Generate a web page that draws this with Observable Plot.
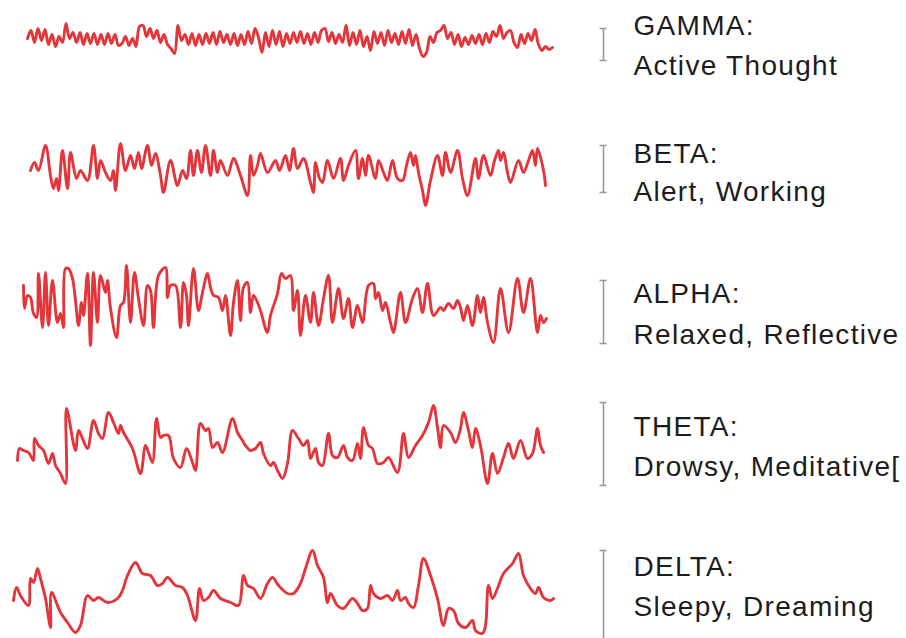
<!DOCTYPE html>
<html><head><meta charset="utf-8">
<script src="https://cdn.jsdelivr.net/npm/d3@7"></script>
<script src="https://cdn.jsdelivr.net/npm/@observablehq/plot@0.6"></script>
<style>
html,body{margin:0;padding:0;background:#fff;}
#chart svg text{letter-spacing:1.3px;}
</style></head><body><div id="chart"></div>
<script>
// Band names and mental states
const bandNames = ["GAMMA:", "BETA:", "ALPHA:", "THETA:", "DELTA:"];
const stateNames = ["Active Thought", "Alert, Working", "Relaxed, Reflective", "Drowsy, Meditative[", "Sleepy, Dreaming"];
// calibration bar lengths (amplitude units)
const calibration = [32, 47, 63, 83, 100];

// GAMMA: uniformly sampled amplitudes
const gammaStart = 27, gammaStep = 3.5;
const gammaValues = [2,10,-2,12,0,11,-4,6,-6,4,-2,17,2,8,-2,8,-4,7,-3,7,-4,6,-4,7,-3,6,-5,
-3,4,-5,2,-6,14,15,4,12,2,10,-2,6,-4,-8,-13,15,0,
6,-4,7,-5,6,-4,7,-3,8,-4,9,-2,6,-4,7,-5,6,-4,9,-3,12,3,-12,8,-6,10,-4,9,-6,
7,-3,8,-2,9,-3,7,-4,8,-2,10,12,-1,8,-3,6,-2,15,-5,8,-4,10,-6,4,-10,9,-3,8,-5,10,
-2,7,-4,9,-3,11,-5,6,-8,-16,-12,4,-2,8,10,15,2,8,-4,6,-6,3,-4,5,-3,6,-4,7,-2,9,
4,15,2,8,10,-2,-7,6,-3,7,0,11,-4,-10,-6,-9,-7];

// BETA: [time, amplitude]
const betaTrace = [[30,0],[34,8],[38,0],[45,25],[50,-5],[53,-18],[56,-8],[58,-20],[62,20],[67,-18],[70,18],[76,-8],[80,0],[87,-10],[93,25],[97,-8],[100,10],[105,-2],[110,-10],[113,0],[115,-20],[120,27],[125,0],[130,15],[134,2],[138,18],[141,2],[147,25],[151,5],[155,17],[160,-5],[163,-22],[170,10],[177,-15],[182,0],[186,-8],[190,20],[193,-5],[197,20],[201,-2],[205,25],[210,-5],[213,20],[217,-2],[220,10],[227,-5],[233,12],[240,-5],[247,-25],[250,15],[253,-5],[257,5],[260,17],[267,-2],[275,10],[279,0],[285,15],[289,0],[293,22],[297,2],[303,12],[310,-12],[313,-22],[315,8],[319,-8],[322,-12],[327,10],[333,-8],[340,12],[343,-10],[348,5],[355,20],[358,-8],[362,12],[365,-5],[368,15],[375,-8],[378,10],[383,-2],[387,-10],[392,10],[397,-8],[402,-10],[406,5],[410,18],[413,5],[415,15],[418,-2],[422,-20],[425,-35],[430,-10],[437,15],[442,-5],[445,18],[450,-2],[457,20],[462,-8],[467,-25],[475,12],[478,-8],[483,15],[490,-5],[494,10],[498,20],[500,10],[503,18],[507,-2],[510,-12],[518,10],[523,-2],[528,10],[532,20],[535,5],[537,22],[543,0],[545,-15]];

// ALPHA: [time, amplitude]
const alphaTrace = [[23,15],[24,-8],[27,5],[30,3],[33,-13],[36,-17],[38,27],[42,-27],[45,28],[48,-25],[52,20],[57,-22],[60,-13],[63,-27],[65,32],[68,32],[72,22],[75,0],[78,-25],[81,-2],[83,-15],[87,27],[90,-45],[93,28],[97,-22],[100,25],[105,8],[107,20],[110,-8],[116,-37],[120,-5],[123,-2],[126,35],[130,-22],[134,28],[138,2],[143,-25],[147,15],[150,10],[153,-27],[158,25],[165,33],[167,3],[170,15],[175,15],[180,-27],[183,18],[186,5],[188,-25],[193,32],[198,-10],[202,8],[207,27],[210,13],[213,5],[218,3],[222,-10],[225,5],[230,-35],[233,-2],[237,20],[240,-20],[243,13],[247,18],[250,-12],[253,5],[257,-2],[260,-10],[267,-32],[270,-15],[277,7],[281,27],[285,22],[290,25],[293,-10],[297,10],[300,-35],[305,5],[310,-22],[313,8],[318,-25],[323,2],[328,25],[332,-22],[338,12],[343,-18],[348,2],[352,-27],[357,-5],[362,-22],[368,15],[373,17],[375,2],[378,8],[382,-10],[385,-2],[390,-22],[393,-32],[400,8],[405,-22],[412,2],[417,12],[422,-12],[427,17],[433,-15],[440,-7],[443,-10],[448,-3],[453,-8],[457,0],[460,-7],[463,-20],[467,-5],[472,-25],[477,5],[480,-12],[483,3],[487,-22],[493,-42],[500,12],[508,-32],[517,22],[523,-12],[530,22],[537,-32],[540,-15],[543,-22],[546,-18]];

// THETA: [time, amplitude]
const thetaTrace = [[17,-15],[19,-3],[23,-5],[28,-7],[33,-15],[34,7],[38,0],[43,-5],[48,-18],[52,-8],[55,-20],[60,-28],[65,-38],[66,37],[75,-5],[78,15],[82,7],[87,-3],[93,25],[98,12],[102,7],[108,33],[113,23],[118,12],[120,20],[123,13],[132,-3],[140,-28],[145,0],[148,-7],[152,-17],[156,27],[160,8],[163,10],[168,10],[173,-13],[180,-22],[186,-3],[192,-17],[195,-25],[200,22],[205,15],[208,17],[212,-2],[217,3],[222,-7],[232,27],[237,13],[242,5],[245,0],[250,-5],[255,-3],[260,3],[263,-8],[270,-20],[273,-17],[277,-25],[282,-33],[287,-18],[292,15],[298,7],[303,0],[307,5],[310,-13],[315,-3],[318,-17],[322,-20],[328,12],[332,-10],[337,-12],[343,0],[347,-12],[352,-15],[357,2],[360,-13],[363,18],[368,0],[372,-3],[377,-18],[383,-17],[388,-12],[397,-27],[403,12],[408,-12],[415,0],[422,10],[428,23],[433,40],[437,18],[440,-2],[443,20],[450,13],[455,3],[460,17],[463,33],[468,15],[472,-2],[475,17],[480,0],[487,-38],[492,-8],[497,-28],[503,-12],[508,2],[513,-13],[520,5],[527,-13],[532,-8],[537,17],[540,0],[543,-7]];

// DELTA: [time, amplitude]
const deltaTrace = [[13,-10],[16,3],[20,-5],[28,-15],[30,12],[33,8],[37,22],[40,12],[45,-8],[50,-37],[51,-2],[60,-22],[67,-32],[75,-42],[80,-35],[87,-5],[93,-10],[98,-7],[107,-12],[117,-8],[122,0],[127,15],[135,28],[142,17],[150,15],[157,5],[162,7],[167,13],[175,5],[182,3],[187,-5],[195,-30],[199,2],[203,-10],[208,-7],[213,0],[220,-8],[230,-12],[238,-15],[243,15],[247,5],[253,2],[260,-8],[267,7],[272,13],[278,5],[287,-3],[293,-3],[300,7],[305,22],[312,40],[317,25],[323,13],[327,-12],[330,-3],[337,-15],[343,-18],[352,-8],[357,-13],[362,-20],[367,-18],[370,5],[373,-3],[380,-8],[387,-5],[392,-10],[397,0],[400,-10],[405,-7],[408,-13],[413,-17],[418,5],[423,32],[430,15],[437,-8],[443,-35],[448,-18],[453,-20],[458,-33],[465,-37],[472,-30],[475,-40],[482,-43],[485,-35],[488,5],[492,-8],[497,2],[503,17],[512,27],[518,37],[523,15],[530,2],[535,-3],[538,3],[543,-7],[550,-10],[553,-8]];

// ---- layout (not data) ----
const rowBase = [40, 170, 300, 445, 590];
const barTop = [28, 145, 280, 402, 550];
const titleY = [34, 162, 302, 435, 575];
const subY = [74, 200, 343, 475, 615];
const barX = 603, textX = 633;

const traces = [
  gammaValues.map((v, i) => [gammaStart + i * gammaStep, v]),
  betaTrace, alphaTrace, thetaTrace, deltaTrace
];
const rows = traces.flatMap((tr, k) => tr.map(([t, v]) => ({k, band: bandNames[k], t, v})));
const labels = bandNames.map((b, k) => ({k, band: b, state: stateNames[k], cal: calibration[k]}));

const chart = Plot.plot({
  width: 906, height: 638,
  margin: 0,
  x: {domain: [0, 906], axis: null},
  y: {domain: [0, 638], reverse: true, axis: null},
  style: {fontFamily: "'Liberation Sans', Arial, Helvetica, sans-serif", background: "#fff"},
  marks: [
    Plot.line(rows, {x: "t", y: d => rowBase[d.k] - d.v, z: "band", curve: "catmull-rom", stroke: "#e3353a", strokeWidth: 2.9, strokeLinejoin: "round", strokeLinecap: "round"}),
    Plot.ruleX(labels, {x: () => barX, y1: d => barTop[d.k], y2: d => barTop[d.k] + d.cal, stroke: "#9a9a9a", strokeWidth: 1.6}),
    Plot.ruleY(labels, {y: d => barTop[d.k], x1: barX - 3.5, x2: barX + 3.5, stroke: "#9a9a9a", strokeWidth: 1.6}),
    Plot.ruleY(labels, {y: d => barTop[d.k] + d.cal, x1: barX - 3.5, x2: barX + 3.5, stroke: "#9a9a9a", strokeWidth: 1.6}),
    Plot.text(labels, {x: () => textX, y: d => titleY[d.k], text: "band", textAnchor: "start", lineAnchor: "bottom", fontSize: 28, fill: "#1c1c1c"}),
    Plot.text(labels, {x: () => textX, y: d => subY[d.k], text: "state", textAnchor: "start", lineAnchor: "bottom", fontSize: 28, fill: "#1c1c1c"})
  ]
});
document.getElementById("chart").appendChild(chart);
</script></body></html>
